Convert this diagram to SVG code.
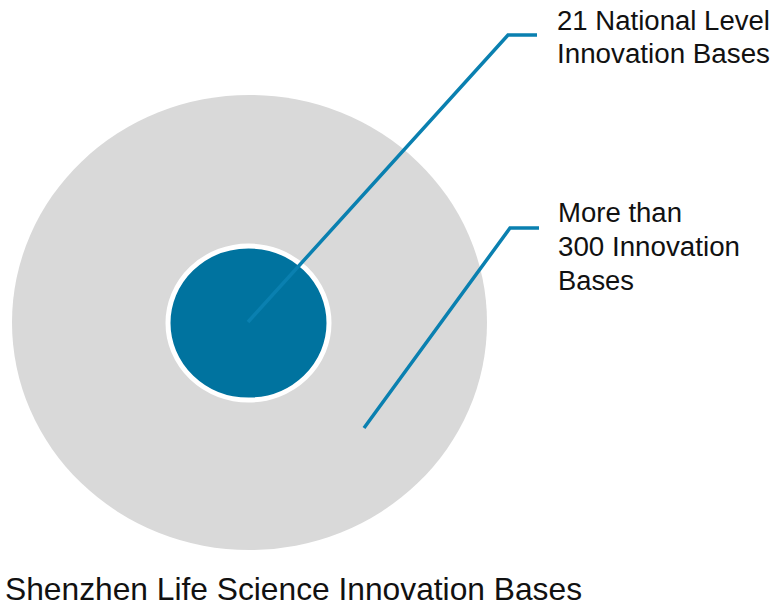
<svg xmlns="http://www.w3.org/2000/svg" width="777" height="608" viewBox="0 0 777 608">
<style>
.lbl{font-family:"Liberation Sans",Arial,Helvetica,sans-serif;font-size:27px;fill:#111}
.title{font-family:"Liberation Sans",Arial,Helvetica,sans-serif;font-size:32px;fill:#111}
.conn{fill:none;stroke:#0a80b0;stroke-width:3.5;stroke-linejoin:miter}
</style>
<rect width="777" height="608" fill="#fff"/>
<g id="outer">
<ellipse cx="249.5" cy="322.5" rx="237.5" ry="227.5" fill="#d9d9d9"/>
</g>
<g id="inner">
<ellipse cx="248.5" cy="323" rx="80.5" ry="77" fill="#00739f" stroke="#fff" stroke-width="5"/>
</g>
<g id="connectors">
<polyline class="conn" points="248,322 508,35 537,35"/>
<polyline class="conn" points="364,428 510,228 539,228"/>
</g>
<g id="label-national">
<text class="lbl" x="557" y="30" textLength="213" lengthAdjust="spacingAndGlyphs">21 National Level</text>
<text class="lbl" x="557" y="63" textLength="213" lengthAdjust="spacingAndGlyphs">Innovation Bases</text>
</g>
<g id="label-300">
<text class="lbl" x="558" y="222" textLength="124" lengthAdjust="spacingAndGlyphs">More than</text>
<text class="lbl" x="558" y="256" textLength="182" lengthAdjust="spacingAndGlyphs">300 Innovation</text>
<text class="lbl" x="558" y="290" textLength="76" lengthAdjust="spacingAndGlyphs">Bases</text>
</g>
<g id="title">
<text class="title" x="5" y="600" textLength="577" lengthAdjust="spacingAndGlyphs">Shenzhen Life Science Innovation Bases</text>
</g>
</svg>
